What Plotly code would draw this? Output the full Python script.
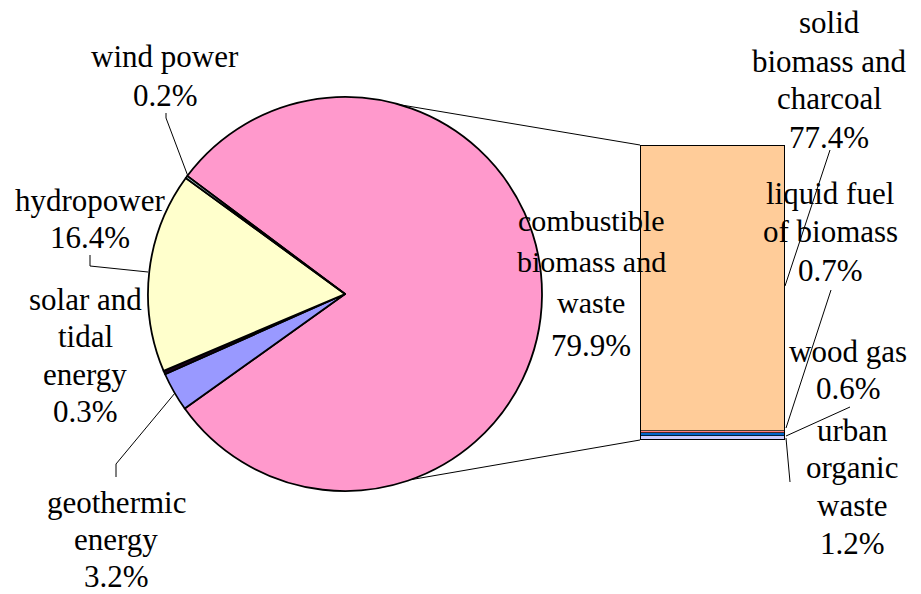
import math
import plotly.graph_objects as go

# ---------------- data ----------------
pie_labels = ["combustible biomass and waste", "geothermic energy", "solar and tidal energy",
              "hydropower", "wind power"]
pie_values = [79.9, 3.2, 0.3, 16.4, 0.2]
pie_colors = ["#FF99CC", "#9999FF", "#1A001A", "#FFFFCC", "#CCFFFF"]

bar_labels = ["urban organic waste", "wood gas", "liquid fuel of biomass", "solid biomass and charcoal"]
bar_values = [1.2, 0.6, 0.7, 77.4]
bar_colors = ["#CCCCFF", "#0066CC", "#FF8080", "#FFCC99"]

# ---------------- layout constants (pixels) ----------------
W, H = 921, 594
CX, CY, R = 345, 294, 197
START_DEG = 143.2  # math angle where first slice begins (clockwise drawing)
BAR_X0, BAR_X1, BAR_Y0, BAR_Y1 = 640, 785, 145, 440

def px(x):
    return x / W

def py(y):
    return 1 - y / H

fig = go.Figure()

fig.add_trace(go.Pie(
    labels=pie_labels, values=pie_values, sort=False, direction="clockwise",
    rotation=-(START_DEG - 90),
    marker=dict(colors=pie_colors, line=dict(color="black", width=1.8)),
    textinfo="none", hoverinfo="label+percent", showlegend=False,
    domain=dict(x=[px(CX - R), px(CX + R)], y=[py(CY + R), py(CY - R)]),
))

for lab, val, col in zip(bar_labels, bar_values, bar_colors):
    fig.add_trace(go.Bar(
        x=[0], y=[val], name=lab, width=1,
        marker=dict(color=col, line=dict(color="black", width=0.7)),
        showlegend=False, hoverinfo="name+y",
    ))

fig.update_layout(
    barmode="stack", bargap=0,
    width=W, height=H, margin=dict(l=0, r=0, t=0, b=0),
    paper_bgcolor="white", plot_bgcolor="rgba(0,0,0,0)",
    xaxis=dict(domain=[px(BAR_X0), px(BAR_X1)], range=[-0.5, 0.5], visible=False, fixedrange=True),
    yaxis=dict(domain=[py(BAR_Y1), py(BAR_Y0)], range=[0, sum(bar_values)], visible=False, fixedrange=True),
)

shapes = [dict(type="rect", xref="x", yref="y", x0=-0.5, x1=0.5, y0=0, y1=sum(bar_values),
               line=dict(color="black", width=2), layer="above")]

def pline(points, width=1):
    d = "M " + " L ".join(f"{px(x)},{py(y)}" for x, y in points)
    shapes.append(dict(type="path", xref="paper", yref="paper", path=d,
                       line=dict(color="black", width=width)))

def circ(angle_deg):
    a = math.radians(angle_deg)
    return (CX + R * math.cos(a), CY - R * math.sin(a))

# connector lines pie -> bar
pline([circ(74), (BAR_X0, BAR_Y0)])
pline([circ(-70.5), (BAR_X0, BAR_Y1)])

# leader lines
pline([(166, 113), (166, 118), circ(143.0)])
pline([(90, 255), (90, 266), (148, 272)])
pline([(116, 477), (116, 464), (175, 393)])
pline([(830, 150), (785, 286)])
pline([(831, 290), (786, 428)])
pline([(850, 407), (786, 436)])
pline([(786, 438), (790, 482)])

fig.update_layout(shapes=shapes)

FONT = "Liberation Serif"
FS = 31

def label(lines, x, y_first, step=38, size=FS, family=FONT):
    for i, t in enumerate(lines):
        fig.add_annotation(text=t, x=px(x), y=py(y_first + i * step), xref="paper", yref="paper",
                           xanchor="center", yanchor="middle", showarrow=False,
                           font=dict(family=family, size=size, color="black"))

label(["wind power", "0.2%"], 165, 57)
label(["hydropower", "16.4%"], 90, 200, 37)
label(["solar and", "tidal", "energy", "0.3%"], 85, 299, 37.5)
label(["geothermic", "energy", "3.2%"], 116, 502, 37)
label(["combustible", "biomass and", "waste"], 591, 220, 41, size=30)
label(["79.9%"], 591, 345)
label(["solid", "biomass and", "charcoal", "77.4%"], 829, 23, 38)
label(["liquid fuel", "of biomass", "0.7%"], 830, 193, 38.5)
label(["wood gas", "0.6%"], 848, 351, 37)
label(["urban", "organic", "waste", "1.2%"], 852, 430, 37.7)

fig.write_html("out.html", config={"displayModeBar": False},
               post_script="document.body.style.margin='0px';document.body.style.overflow='hidden';")
